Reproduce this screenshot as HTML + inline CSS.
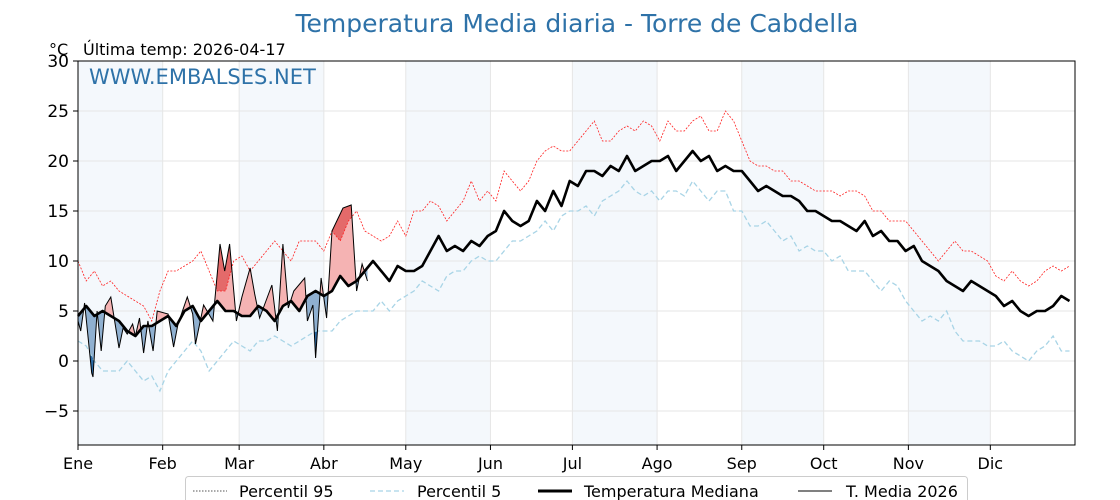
<!DOCTYPE html>
<html><head><meta charset="utf-8"><style>
html,body{margin:0;padding:0;background:#fff;}
svg{display:block;font-family:"DejaVu Sans","Liberation Sans",sans-serif;}
</style></head><body>
<svg id="chart" width="1120" height="500" viewBox="0 0 1120 500">
<defs></defs>
<text x="577" y="32" text-anchor="middle" font-size="25" fill="#2e72a8">Temperatura Media diaria - Torre de Cabdella</text>
<text x="49" y="55" font-size="16" fill="#000">°C</text>
<text x="83" y="55" font-size="16" fill="#000">Última temp: 2026-04-17</text>
<g id="bands"></g>
<g id="grid"></g>
<g id="marks"></g>
<rect x="78" y="61" width="997" height="384" fill="none" stroke="#000" stroke-width="1"/>
<text x="89" y="84" font-size="21" fill="#2e72a8">WWW.EMBALSES.NET</text>
<g id="yticks"></g>
<g id="xticks"></g>
<g>
<rect x="185.5" y="476.5" width="782" height="30" rx="3" fill="#fff" stroke="#ccc"/>
<g><line x1="193" y1="491" x2="227" y2="491" stroke="#555" stroke-width="1" stroke-dasharray="1.5,1.5"/><text x="239" y="497" font-size="16">Percentil 95</text></g>
<g><line x1="370" y1="491" x2="404" y2="491" stroke="#a8d4e6" stroke-width="1.3" stroke-dasharray="5,3"/><text x="417" y="497" font-size="16">Percentil 5</text></g>
<g><line x1="538" y1="491" x2="572" y2="491" stroke="#000" stroke-width="3"/><text x="584" y="497" font-size="16">Temperatura Mediana</text></g>
<g><line x1="798" y1="491" x2="832" y2="491" stroke="#000" stroke-width="1"/><text x="846" y="497" font-size="16">T. Media 2026</text></g>
</g>
</svg>
<script>
const monthLabels=["Ene","Feb","Mar","Abr","May","Jun","Jul","Ago","Sep","Oct","Nov","Dic"];
const monthStarts=[0,31,59,90,120,151,181,212,243,273,304,334];
const yTicks=[-5,0,5,10,15,20,25,30];
const step=3;
const median=[4.5,5.5,4.5,5,4.5,4,3,2.5,3.5,3.5,4,
4.5,3.5,5,5.5,4,5,6,5,5,4.5,
4.5,5.5,5,4,5.5,6,5,6.5,7,6.5,
7,8.5,7.5,8,9,10,9,8,9.5,9,
9,9.5,11,12.5,11,11.5,11,12,11.5,12.5,
13,15,14,13.5,14,16,15,17,15.5,18,
17.5,19,19,18.5,19.5,19,20.5,19,19.5,20,
20,20.5,19,20,21,20,20.5,19,19.5,19,
19,18,17,17.5,17,16.5,16.5,16,15,15,
14.5,14,14,13.5,13,14,12.5,13,12,12,
11,11.5,10,9.5,9,8,7.5,7,8,7.5,
7,6.5,5.5,6,5,4.5,5,5,5.5,6.5,6];
const p95=[10,8,9,7.5,8,7,6.5,6,5.5,4,7,
9,9,9.5,10,11,9,7,7,10,10.5,
9,10,11,12,11,10,12,12,12,11,
13,12,14,15,13,12.5,12,12.5,14,12.5,
15,15,16,15.5,14,15,16,18,16,17,
16,19,18,17,18,20,21,21.5,21,21,
22,23,24,22,22,23,23.5,23,24,23.5,
22,24,23,23,24,24.5,23,23,25,24,
22,20,19.5,19.5,19,19,18,18,17.5,17,
17,17,16.5,17,17,16.5,15,15,14,14,
14,13,12,11,10,11,12,11,11,10.5,
10,8.5,8,9,8,7.5,8,9,9.5,9,9.5];
const p5=[2,1.5,0,-1,-1,-1,0,-1,-2,-1.5,-3,
-1,0,1,2,1,-1,0,1,2,1.5,
1,2,2,2.5,2,1.5,2,2.5,3,3,
3,4,4.5,5,5,5,6,5,6,6.5,
7,8,7.5,7,8.5,9,9,10,10.5,10,
10,11,12,12,12.5,13,14,13,14.5,15,
15,15.5,14.5,16,16.5,17,18,17,16.5,17,
16,17,17,16.5,18,17,16,17,17,15,
15,13.5,13.5,14,13,12,12.5,11,11.5,11,
11,10,10.5,9,9,9,8,7,8,7.5,
6,5,4,4.5,4,5,3,2,2,2,
1.5,1.5,2,1,0.5,0,1,1.5,2.5,1,1];
const days2026=[0,1,2.4,5,5.5,7,8.5,10,12,15,16.5,18,20,21,22.5,24,25.6,27.5,29,33,35,36.6,40,42,43,46,49.4,52,53.7,55.5,58,60,63,64.7,66.5,71,73,75,77,79,83,84,86,87,89,91,93,97,100,102,104,106];
const temp2026=[4,3,5.8,-1.2,-1.6,5,1,5.5,6.4,1.3,3.3,2.7,3.7,2.5,4.3,0.8,4,1,5,4.7,1.4,3.7,6.4,4.7,1.7,5.6,4,11.7,9,11.7,4,6.4,9.3,6.7,4.3,7.6,3,11.7,5.3,7,8.3,4,5.6,0.3,8.3,4.3,13,15.3,15.6,7,9.7,8];

const X0=78,X1=1075,Y0=61,Y1=445,VMIN=-8.4,VMAX=30;
const xs=d=>X0+d*(X1-X0)/365;
const ys=v=>Y1-(v-VMIN)*(Y1-Y0)/(VMAX-VMIN);
const NS="http://www.w3.org/2000/svg";
function mk(tag,attrs,parent){const e=document.createElementNS(NS,tag);for(const k in attrs)e.setAttribute(k,attrs[k]);parent.appendChild(e);return e;}
const bands=document.getElementById('bands'),grid=document.getElementById('grid'),marks=document.getElementById('marks');
const yt=document.getElementById('yticks'),xt=document.getElementById('xticks');
const defs=document.querySelector('defs');
monthStarts.forEach((d,i)=>{
  const end=i<11?monthStarts[i+1]:365;
  if(i%2===0){const r=mk('rect',{x:xs(d),y:Y0,width:xs(end)-xs(d),height:Y1-Y0,fill:'#f4f8fc'},bands);
  
  }
  const gl=mk('line',{x1:xs(d),x2:xs(d),y1:Y0,y2:Y1,stroke:'#e6e6e6','stroke-width':1},grid);
  
  
  mk('line',{x1:xs(d),x2:xs(d),y1:Y1,y2:Y1+5,stroke:'#000'},xt);
  const t=mk('text',{x:xs(d),y:Y1+24,'font-size':16,'text-anchor':'middle'},xt);
  t.textContent=monthLabels[i];
  
  
});
yTicks.forEach(v=>{
  const gl=mk('line',{x1:X0,x2:X1,y1:ys(v),y2:ys(v),stroke:'#e6e6e6','stroke-width':1},grid);
  
  
  mk('line',{x1:X0-5,x2:X0,y1:ys(v),y2:ys(v),stroke:'#000'},yt);
  const t=mk('text',{x:X0-9,y:ys(v)+6,'font-size':17,'text-anchor':'end'},yt);
  t.textContent=(v<0?'\u2212'+Math.abs(v):v);
  
  
});
const ptsStep=a=>a.map((v,i)=>xs(i*step).toFixed(1)+','+ys(v).toFixed(1));
function interpStep(a,d){const f=d/step,i=Math.min(Math.floor(f),a.length-2),t=f-i;return a[i]*(1-t)+a[i+1]*t;}
const lastDay=days2026[days2026.length-1];
const medPts=[],p95Pts=[],p5Pts=[];
for(let d=0;d<=lastDay;d+=0.5){medPts.push([d,interpStep(median,d)]);p95Pts.push([d,interpStep(p95,d)]);p5Pts.push([d,interpStep(p5,d)]);}
const tPts=days2026.map((d,i)=>xs(d).toFixed(1)+','+ys(temp2026[i]).toFixed(1));
const areaPoly=tPts.concat(medPts.slice().reverse().map(p=>xs(p[0]).toFixed(1)+','+ys(p[1]).toFixed(1))).join(' ');
function clip(id,pts,top){const c=mk('clipPath',{id:id},defs);const yE=top?Y0:Y1;
  const p=pts.map(q=>xs(q[0]).toFixed(1)+','+ys(q[1]).toFixed(1));
  p.push(xs(lastDay).toFixed(1)+','+yE,xs(0).toFixed(1)+','+yE);mk('polygon',{points:p.join(' ')},c);}
clip('aboveMed',medPts,true);clip('belowMed',medPts,false);clip('aboveP95',p95Pts,true);clip('belowP5',p5Pts,false);
const fills=[['aboveMed','#f5b3b3','fill-above-median'],['aboveP95','#e46a6a','fill-above-p95'],['belowMed','#8fb0d0','fill-below-median'],['belowP5','#2a6aa4','fill-below-p5']];
fills.forEach(f=>{const g=mk('polygon',{points:areaPoly,fill:f[1],'clip-path':'url(#'+f[0]+')'},marks);
  
  });
const l95=mk('polyline',{points:ptsStep(p95).join(' '),fill:'none',stroke:'#ff2020','stroke-width':0.8,'stroke-dasharray':'2,1.5'},marks);


const l5=mk('polyline',{points:ptsStep(p5).join(' '),fill:'none',stroke:'#a8d4e6','stroke-width':1.3,'stroke-dasharray':'5,3'},marks);


const lm=mk('polyline',{points:ptsStep(median).join(' '),fill:'none',stroke:'#000','stroke-width':2.6,'stroke-linejoin':'round'},marks);


const l26=mk('polyline',{points:tPts.join(' '),fill:'none',stroke:'#000','stroke-width':1},marks);


</script>
</body></html>
